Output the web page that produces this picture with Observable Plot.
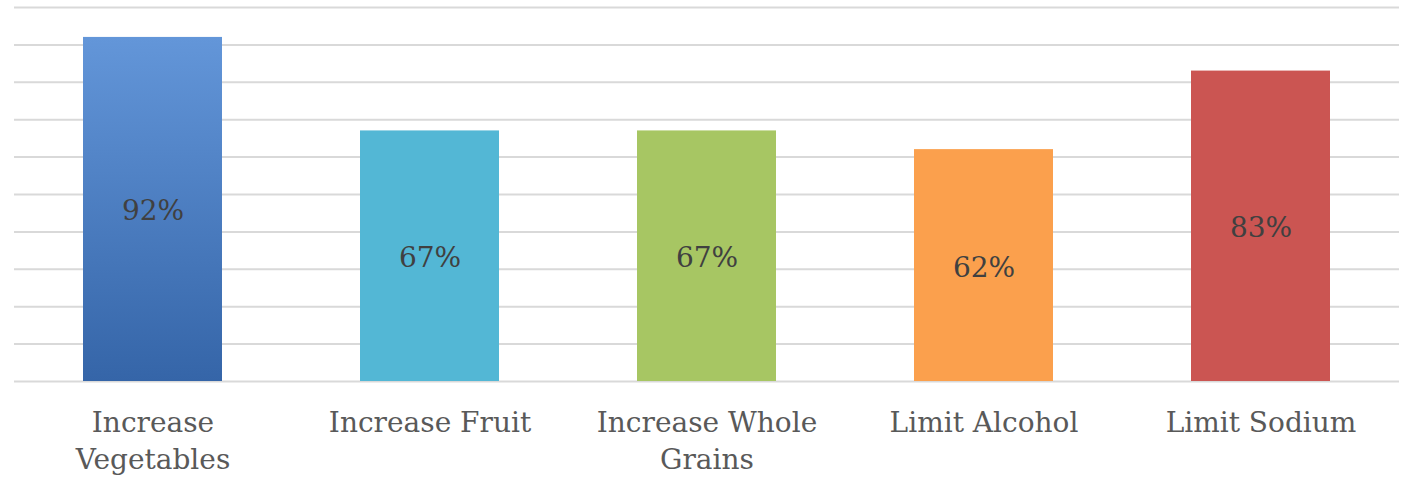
<!DOCTYPE html>
<html>
<head>
<meta charset="utf-8">
<script src="https://cdn.jsdelivr.net/npm/d3@7"></script>
<script src="https://cdn.jsdelivr.net/npm/@observablehq/plot@0.6"></script>
<style>
  html, body { margin: 0; padding: 0; background: #fff; }
  #chart { width: 1407px; height: 477px; }
</style>
</head>
<body>
<div id="chart"></div>
<script>
const categories = ["Increase Vegetables", "Increase Fruit", "Increase Whole Grains", "Limit Alcohol", "Limit Sodium"];
const labels = ["Increase\nVegetables", "Increase Fruit", "Increase Whole\nGrains", "Limit Alcohol", "Limit Sodium"];
const values = [0.92, 0.67, 0.67, 0.62, 0.83];
const colors = ["url(#vegGrad)", "#53B7D5", "#A7C663", "#FBA04D", "#CB5552"];
const gridTicks = [0, 0.1, 0.2, 0.3, 0.4, 0.5, 0.6, 0.7, 0.8, 0.9, 1.0];

const data = categories.map((c, i) => ({cat: c, label: labels[i], value: values[i], color: colors[i]}));

const chart = Plot.plot({
  width: 1407,
  height: 477,
  marginLeft: 14,
  marginRight: 8,
  marginTop: 7,
  marginBottom: 96,
  style: {background: "#fff"},
  x: {domain: categories, paddingInner: 0.5, paddingOuter: 0.25, align: 0.5, axis: null},
  y: {domain: [0, 1], axis: null},
  marks: [
    Plot.ruleY(gridTicks, {stroke: "#d9d9d9", strokeWidth: 2}),
    Plot.barY(data, {x: "cat", y: "value", fill: "color", style: {filter: "drop-shadow(1px 1px 1.5px rgba(0,0,0,0.35))"}}),
    Plot.text(data, {x: "cat", y: d => d.value / 2, text: d => Math.round(d.value * 100) + "%", fontSize: 28, fill: "#404040", fontFamily: "DejaVu Serif", dy: 2}),
    Plot.text(data, {x: "cat", y: 0, text: "label", lineAnchor: "top", dy: 24, lineHeight: 1.33, fontSize: 28, fill: "#595959", fontFamily: "DejaVu Serif"})
  ]
});

const svgns = "http://www.w3.org/2000/svg";
const defs = document.createElementNS(svgns, "defs");
defs.innerHTML = `<linearGradient id="vegGrad" x1="0" y1="0" x2="0" y2="1">
  <stop offset="0" stop-color="#6396D9"/>
  <stop offset="1" stop-color="#3565A8"/>
</linearGradient>`;
chart.insertBefore(defs, chart.firstChild);
document.getElementById("chart").appendChild(chart);
</script>
</body>
</html>
